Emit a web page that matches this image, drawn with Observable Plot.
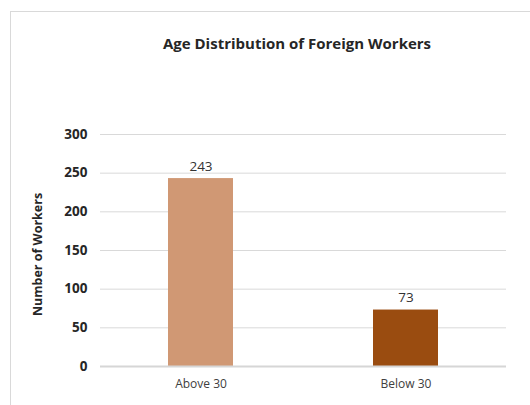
<!DOCTYPE html>
<html>
<head>
<meta charset="utf-8">
<script src="https://cdn.jsdelivr.net/npm/d3@7"></script>
<script src="https://cdn.jsdelivr.net/npm/@observablehq/plot@0.6"></script>
<style>
  html, body { margin: 0; padding: 0; background: #fff; }
  #wrap { position: relative; width: 530px; height: 405px; overflow: hidden; font-family: "Open Sans", "Noto Sans", sans-serif; }
  #frame { position: absolute; left: 10px; top: 11px; width: 600px; height: 500px; border-left: 1px solid #d9d9d9; border-top: 1px solid #d9d9d9; }
  #title { position: absolute; left: 0; width: 594px; top: 33px; text-align: center; font-weight: bold; font-size: 15px; color: #262626; }
  #chart { position: absolute; left: 0; top: 0; }
</style>
</head>
<body>
<div id="wrap">
  <div id="frame"></div>
  <div id="title">Age Distribution of Foreign Workers</div>
  <div id="chart"></div>
</div>
<script>
const categories = ["Above 30", "Below 30"];
const workers = [243, 73];
const barColors = ["#D09874", "#9A4C10"];
const yTicks = [0, 50, 100, 150, 200, 250, 300];

const data = categories.map((c, i) => ({category: c, value: workers[i], color: barColors[i]}));

const chart = Plot.plot({
  width: 530,
  height: 405,
  marginLeft: 100,
  marginRight: 24,
  marginTop: 134,
  marginBottom: 39,
  style: {fontFamily: "'Open Sans', 'Noto Sans', sans-serif", background: "transparent", overflow: "visible"},
  x: {domain: categories, paddingInner: 0.683, paddingOuter: 0.33, label: null, tickSize: 0, tickPadding: 13},
  y: {domain: [0, 300], ticks: yTicks, label: null, tickSize: 0, tickPadding: 13},
  marks: [
    Plot.ruleY(yTicks.filter(d => d > 0), {stroke: "#d9d9d9", strokeWidth: 1}),
    Plot.barY(data, {x: "category", y: "value", fill: "color"}),
    Plot.ruleY([0], {stroke: "#d6d6d6", strokeWidth: 2}),
    Plot.text(data, {x: "category", y: "value", text: d => String(d.value), dy: -12, fontSize: 13.5, fill: "#333"}),
    Plot.axisY({ticks: yTicks, tickSize: 0, tickPadding: 13, fontSize: 13.5, fontWeight: "bold", fill: "#262626", label: null}),
    Plot.axisX({tickSize: 0, tickPadding: 13, fontSize: 12, fill: "#404040", label: null}),
    Plot.text(["Number of Workers"], {frameAnchor: "left", textAnchor: "middle", rotate: -90, dx: -63, dy: 4, fontSize: 12.5, fontWeight: "bold", fill: "#262626"})
  ]
});
document.getElementById("chart").appendChild(chart);
</script>
</body>
</html>
